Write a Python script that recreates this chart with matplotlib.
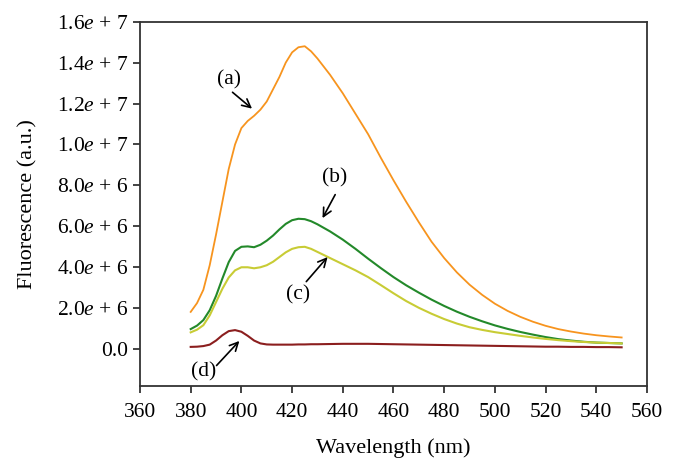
import matplotlib
matplotlib.use("Agg")
import matplotlib.pyplot as plt
from matplotlib.ticker import FuncFormatter

plt.rcParams['font.family'] = ['Liberation Serif', 'DejaVu Serif']
plt.rcParams['mathtext.fontset'] = 'custom'
plt.rcParams['mathtext.rm'] = 'Liberation Serif'
plt.rcParams['mathtext.it'] = 'Liberation Serif:italic'

wavelength = [380, 382.5, 385, 387.5, 390, 392.5, 395, 397.5, 400, 402.5, 405, 407.5,
              410, 412.5, 415, 417.5, 420, 422.5, 425, 427.5, 430,
              435, 440, 445, 450, 455, 460, 465, 470, 475, 480, 485, 490,
              495, 500, 505, 510, 515, 520, 525, 530, 535, 540, 545, 550]

# fluorescence, units of 1e6
curve_a = [1.82, 2.25, 2.9, 4.1, 5.6, 7.2, 8.8, 10.0, 10.8, 11.15, 11.4, 11.7,
           12.1, 12.7, 13.3, 14.0, 14.5, 14.75, 14.8, 14.55, 14.2,
           13.4, 12.5, 11.5, 10.5, 9.35, 8.25, 7.2, 6.2, 5.25, 4.45, 3.75, 3.15,
           2.65, 2.22, 1.87, 1.58, 1.34, 1.14, 0.98, 0.86, 0.76, 0.68, 0.62, 0.57]
curve_b = [0.98, 1.15, 1.42, 1.9, 2.6, 3.45, 4.25, 4.8, 5.0, 5.02, 4.98, 5.1,
           5.3, 5.55, 5.85, 6.12, 6.3, 6.37, 6.35, 6.25, 6.1,
           5.75, 5.35, 4.9, 4.42, 3.96, 3.52, 3.12, 2.76, 2.42, 2.11, 1.83, 1.58,
           1.36, 1.16, 0.99, 0.84, 0.71, 0.59, 0.49, 0.42, 0.36, 0.32, 0.30, 0.28]
curve_c = [0.82, 0.95, 1.17, 1.65, 2.3, 2.95, 3.5, 3.85, 4.0, 4.0, 3.95, 4.0,
           4.1, 4.27, 4.5, 4.73, 4.9, 4.98, 5.0, 4.9, 4.75,
           4.45, 4.15, 3.85, 3.52, 3.13, 2.73, 2.35, 2.02, 1.73, 1.47, 1.25, 1.07,
           0.94, 0.83, 0.74, 0.65, 0.57, 0.50, 0.44, 0.39, 0.35, 0.32, 0.30, 0.28]
curve_d = [0.11, 0.12, 0.15, 0.22, 0.42, 0.68, 0.88, 0.93, 0.85, 0.65, 0.42, 0.28,
           0.23, 0.22, 0.22, 0.22, 0.22, 0.23, 0.23, 0.24, 0.24,
           0.25, 0.26, 0.26, 0.26, 0.25, 0.24, 0.23, 0.22, 0.21, 0.2, 0.19, 0.18,
           0.17, 0.16, 0.15, 0.14, 0.13, 0.12, 0.12, 0.11, 0.11, 0.1, 0.1, 0.09]

fig = plt.figure(figsize=(6.75, 4.71), dpi=100)
ax = fig.add_axes([0.2074, 0.1805, 0.7511, 0.7735])

scale = 1e6
ax.plot(wavelength, [v * scale for v in curve_a], color='#F7941E', lw=1.3)
ax.plot(wavelength, [v * scale for v in curve_b], color='#23892A', lw=1.5)
ax.plot(wavelength, [v * scale for v in curve_c], color='#C8CC35', lw=1.5)
ax.plot(wavelength, [v * scale for v in curve_d], color='#8B1E1E', lw=1.5)

arrow = dict(arrowstyle='->', color='black', lw=1.2, shrinkA=0, shrinkB=0,
             mutation_scale=15)
ax.annotate('', xy=(404.2, 11.75e6), xytext=(396.5, 12.55e6), arrowprops=arrow)
ax.text(395.1, 13.15e6, '(a)', ha='center', va='center', fontsize=15.5)
ax.annotate('', xy=(432.0, 6.4e6), xytext=(437.0, 7.55e6), arrowprops=arrow)
ax.text(436.9, 8.35e6, '(b)', ha='center', va='center', fontsize=15.5)
ax.annotate('', xy=(434.0, 4.5e6), xytext=(425.6, 3.3e6), arrowprops=arrow)
ax.text(422.5, 2.64e6, '(c)', ha='center', va='center', fontsize=15.5)
ax.annotate('', xy=(399.2, 0.4e6), xytext=(390.2, -0.8e6), arrowprops=arrow)
ax.text(385.2, -1.11e6, '(d)', ha='center', va='center', fontsize=15.5)


def fmt(v, pos):
    if v == 0:
        return '0.0'
    exp = len(str(int(abs(v)))) - 1
    return '%.1f$e$ + %d' % (v / 10 ** exp, exp)


ax.set_xlim(360, 560)
ax.set_ylim(-1.8e6, 1.6e7)
ax.set_xticks(range(360, 561, 20))
ax.set_yticks([i * 2e6 for i in range(9)])
ax.yaxis.set_major_formatter(FuncFormatter(fmt))
ax.tick_params(direction='out', length=5, width=1.2, labelsize=15.5, colors='#222222',
               labelcolor='black')
ax.tick_params(axis='x', pad=7)
for s in ax.spines.values():
    s.set_linewidth(1.3)
    s.set_color('#333333')

ax.set_xlabel('Wavelength (nm)', fontsize=16, labelpad=12)
ax.set_ylabel('Fluorescence (a.u.)', fontsize=16, labelpad=14)

fig.savefig('out.png', dpi=100)
